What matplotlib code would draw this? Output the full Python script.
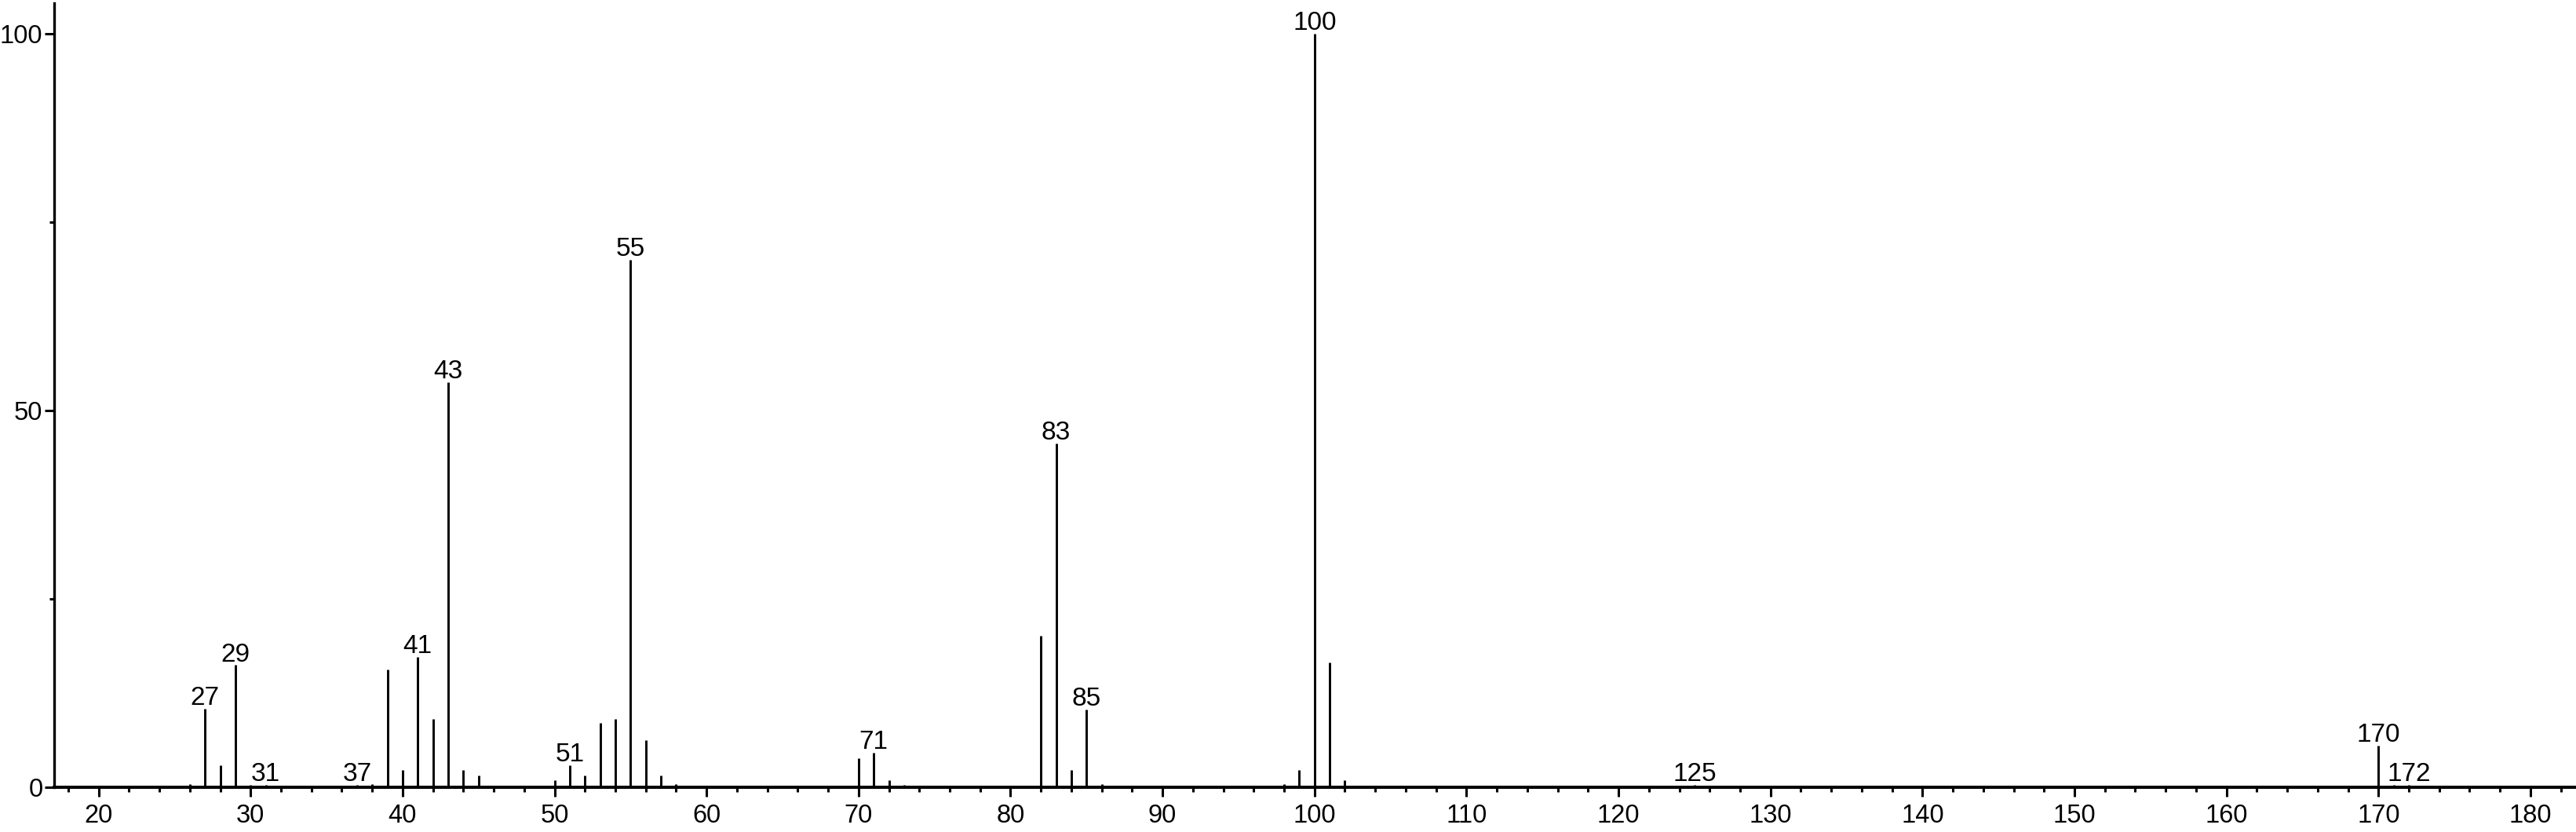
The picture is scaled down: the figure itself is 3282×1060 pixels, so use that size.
import matplotlib
matplotlib.use("Agg")
import matplotlib.pyplot as plt
from matplotlib.ticker import MultipleLocator

plt.rcParams['font.family'] = ['Liberation Sans', 'DejaVu Sans']

# m/z values and relative intensities
mz = [26, 27, 28, 29, 30, 31, 37, 38, 39, 40, 41, 42, 43, 44, 45,
      50, 51, 52, 53, 54, 55, 56, 57, 58,
      70, 71, 72, 73, 82, 83, 84, 85, 86,
      98, 99, 100, 101, 102, 125, 170, 171, 172]
intensity = [0.4, 10.4, 2.9, 16.2, 0.3, 0.3, 0.3, 0.4, 15.6, 2.3, 17.3, 9.1, 53.8, 2.3, 1.6,
             0.9, 2.9, 1.6, 8.5, 9.1, 70.0, 6.2, 1.6, 0.4,
             3.9, 4.6, 0.9, 0.3, 20.1, 45.6, 2.3, 10.3, 0.4,
             0.4, 2.3, 100.0, 16.6, 0.9, 0.3, 5.5, 0.3, 0.3]
labeled_mz = [27, 29, 31, 37, 41, 43, 51, 55, 71, 83, 85, 100, 125, 170, 172]

x_ticks = list(range(20, 181, 10))
y_ticks = [0, 50, 100]

W, H = 3282, 1060
fig = plt.figure(figsize=(W / 100, H / 100), dpi=100)
ax = fig.add_axes([68.5 / W, 57 / H, 1 - 68.5 / W, 999 / H])

ax.vlines(mz, 0, intensity, colors='black', linewidth=2.1)

lookup = dict(zip(mz, intensity))
for m in labeled_mz:
    ax.annotate(str(m), (m, lookup[m]), xytext=(0, 3.5), textcoords='offset points',
                ha='center', va='baseline', fontsize=24, color='black')

ax.set_xlim(17.05, 183.0)
ax.set_ylim(0, 104.06)

for s in ['top', 'right']:
    ax.spines[s].set_visible(False)
ax.spines['left'].set_linewidth(2.4)
ax.spines['bottom'].set_linewidth(2.9)

ax.set_xticks(x_ticks)
ax.xaxis.set_minor_locator(MultipleLocator(2))
ax.set_yticks(y_ticks)
ax.yaxis.set_minor_locator(MultipleLocator(25))

ax.tick_params(axis='x', which='major', length=8.6, width=2.2, labelsize=23.5, pad=6.5, direction='out')
ax.tick_params(axis='x', which='minor', length=4.3, width=2.2, direction='out')
ax.tick_params(axis='y', which='major', length=8.6, width=2.2, labelsize=23.5, pad=1.5, direction='out')
ax.tick_params(axis='y', which='minor', length=4.3, width=2.2, direction='out')

fig.savefig('out.png', dpi=100)
